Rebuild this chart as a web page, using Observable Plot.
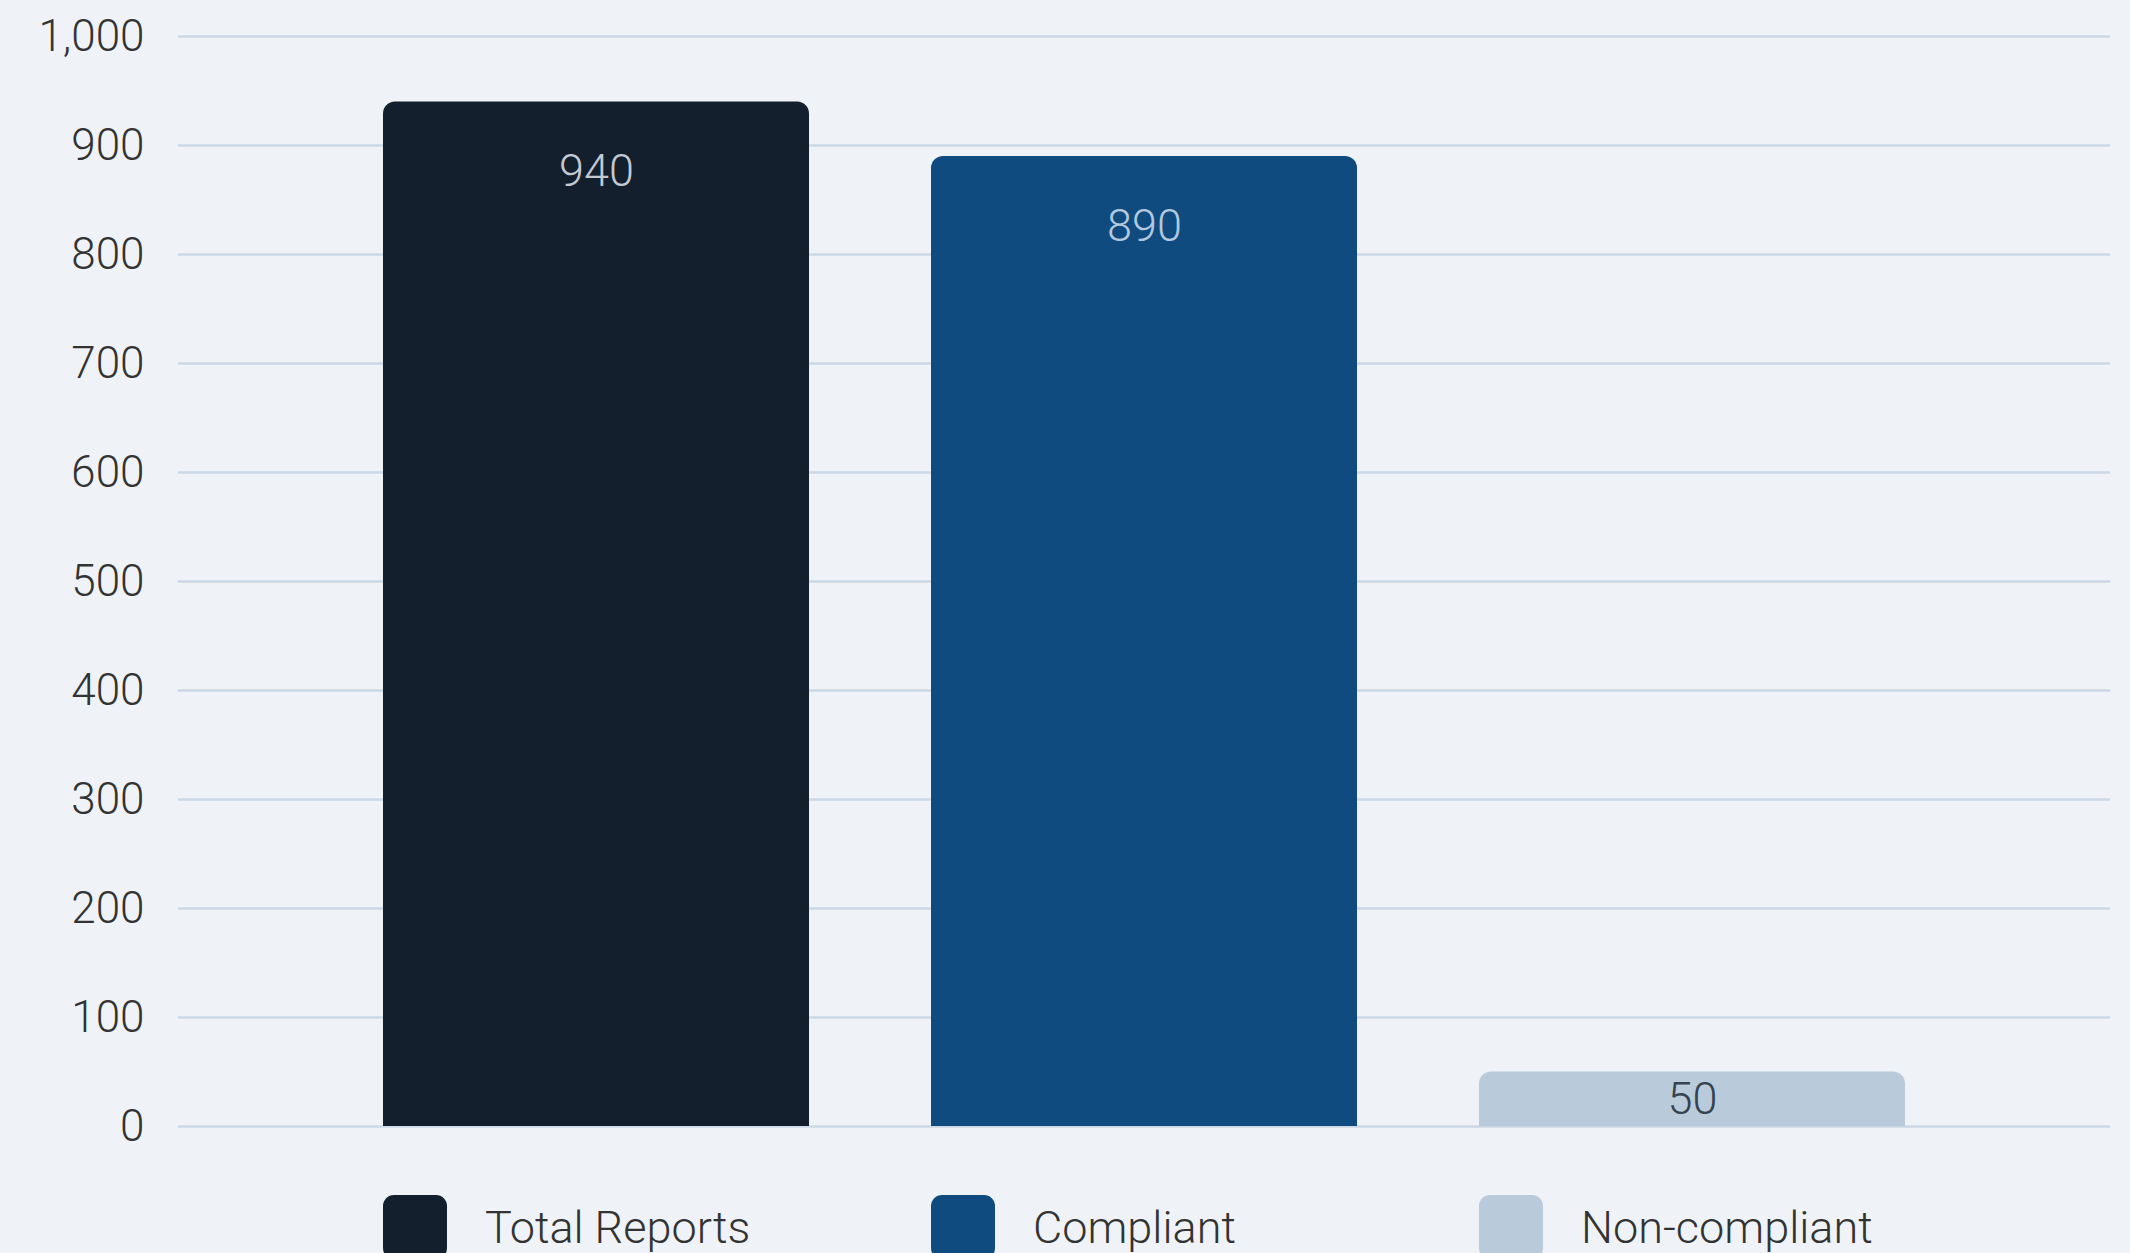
<!DOCTYPE html>
<html>
<head>
<meta charset="utf-8">
<script src="https://cdn.jsdelivr.net/npm/d3@7"></script>
<script src="https://cdn.jsdelivr.net/npm/@observablehq/plot@0.6"></script>
<style>
  html, body { margin: 0; padding: 0; background: #eff3f7; overflow: hidden; }
  body { width: 2130px; height: 1253px; position: relative; font-family: Roboto, "Noto Sans", sans-serif; }
  #chart svg { display: block; background: #eff3f7; }
  #chart svg text { font-family: Roboto, "Noto Sans", sans-serif; font-weight: 300; }
  #legend { position: relative; height: 93px; }
  .item { position: absolute; top: 35px; display: flex; align-items: center; }
  .swatch { width: 64px; height: 64px; border-radius: 11px; margin-right: 38px; }
  .lab { font-size: 45px; font-weight: 300; color: #333; white-space: nowrap; }
</style>
</head>
<body>
<div id="chart"></div>
<div id="legend"></div>
<script>
const categories = ["Total Reports", "Compliant", "Non-compliant"];
const values = [940, 890, 50];
const barColors = ["#141f2e", "#104b80", "#b9cbda"];
const labelColors = ["#c3c9d1", "#b3c8dc", "#36424f"];
const yTicks = [0, 100, 200, 300, 400, 500, 600, 700, 800, 900, 1000];

const data = categories.map((c, i) => ({category: c, value: values[i], color: barColors[i], labelColor: labelColors[i]}));
const tall = data.filter(d => d.value > 200);
const short = data.filter(d => d.value <= 200);

const plot = Plot.plot({
  width: 2130,
  height: 1160,
  marginTop: 36,
  marginBottom: 34,
  marginLeft: 178,
  marginRight: 20,
  style: {background: "#eff3f7", color: "#333333", fontSize: "44px"},
  x: {domain: categories, paddingInner: 0.222, paddingOuter: 0.372, axis: null},
  y: {domain: [0, 1000], ticks: yTicks},
  marks: [
    Plot.ruleY(yTicks, {stroke: "#cdd8e6", strokeWidth: 2.5}),
    Plot.axisY(yTicks, {tickSize: 0, tickPadding: 34, tickFormat: d3.format(","), fontSize: 44, fill: "#333333", label: null}),
    Plot.barY(data, {x: "category", y: "value", fill: "color", rx: 12}),
    Plot.barY(data, {x: "category", y1: 0, y2: d => d.value / 2, fill: "color"}),
    Plot.text(tall, {x: "category", y: "value", text: d => String(d.value), dy: 70, fill: "labelColor", fontSize: 45, fontWeight: 300, textAnchor: "middle", lineAnchor: "middle"}),
    Plot.text(short, {x: "category", y: d => d.value / 2, text: d => String(d.value), dy: 0, fill: "labelColor", fontSize: 45, fontWeight: 300, textAnchor: "middle", lineAnchor: "middle"})
  ]
});
document.getElementById("chart").appendChild(plot);

const xs = plot.scale("x");
const legend = document.getElementById("legend");
data.forEach(d => {
  const item = document.createElement("div");
  item.className = "item";
  item.style.left = xs.apply(d.category) + "px";
  const sw = document.createElement("div");
  sw.className = "swatch";
  sw.style.background = d.color;
  const lb = document.createElement("span");
  lb.className = "lab";
  lb.textContent = d.category;
  item.appendChild(sw);
  item.appendChild(lb);
  legend.appendChild(item);
});
</script>
</body>
</html>
